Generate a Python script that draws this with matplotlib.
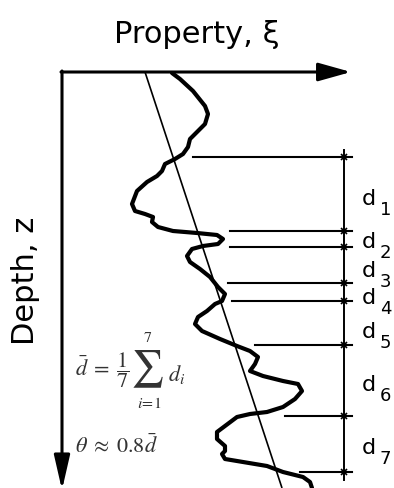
import matplotlib
matplotlib.use("Agg")
import matplotlib.pyplot as plt

# ---- data (diagram units: property to the right, depth downward, origin at axes corner) ----
profile_xi = [110, 118, 131, 143, 146, 143, 135, 128, 126, 121, 113, 103, 100, 95, 85,
              75, 70, 73, 83, 91, 90, 96, 111, 135, 155, 161, 156, 141, 130, 125,
              128, 138, 148, 156, 163, 160, 153, 145, 136, 133, 140, 158, 175, 188, 196,
              193, 188, 201, 221, 236, 240, 233, 221, 205, 188, 175, 163, 155, 155, 163,
              163, 160, 163, 181, 205, 221, 241, 248, 250]
profile_z = [1, 7, 19, 34, 42, 52, 60, 67, 75, 82, 87, 92, 99, 104, 110,
             119, 132, 139, 142, 145, 150, 155, 159, 161, 163, 167, 172, 174, 177, 184,
             190, 197, 205, 215, 222, 229, 232, 239, 245, 252, 259, 267, 274, 279, 285,
             292, 299, 304, 309, 312, 319, 327, 335, 340, 342, 345, 354, 360, 367, 374,
             379, 382, 387, 390, 394, 400, 405, 410, 416]

trend_xi = [83, 220]
trend_z = [0, 416]

boundary_z = [85, 159, 175, 211, 229, 273, 344, 400]
boundary_start_xi = [131, 168, 168, 166, 170, 193, 223, 238]
dim_xi = 282

layer_names = ["1", "2", "3", "4", "5", "6", "7"]
layer_label_z = [126, 169, 198, 225, 259, 312, 375]

title_text = "Property, ξ"
depth_text = "Depth, z"
formula_head = r"$\bar{d}\;=\;\dfrac{1}{7}$"
sum_sign = "\u2211"
sum_upper = "7"
sum_lower = r"$i\!=\!1$"
sum_term = r"$d_i$"
formula_theta = r"$\theta\;\approx\;0.8\bar{d}$"

# ---- figure ----
plt.rcParams["mathtext.fontset"] = "stix"
fig = plt.figure(figsize=(3.94, 4.89), dpi=100)
ax = fig.add_axes([0, 0, 1, 1])
ax.set_xlim(-62, 332)
ax.set_ylim(416, -73)
ax.axis("off")

# axes arrows
ax.annotate("", xy=(289, 0), xytext=(-1, 0), annotation_clip=False,
            arrowprops=dict(arrowstyle="-|>,head_length=1.0,head_width=0.28",
                            mutation_scale=20, lw=2.2, color="black",
                            shrinkA=0, shrinkB=0))
ax.annotate("", xy=(0, 418), xytext=(0, -1), annotation_clip=False,
            arrowprops=dict(arrowstyle="-|>,head_length=1.05,head_width=0.24",
                            mutation_scale=20, lw=2.2, color="black",
                            shrinkA=0, shrinkB=0))

# trend line
ax.plot(trend_xi, trend_z, color="black", lw=1.2, solid_capstyle="butt")

# profile
ax.plot(profile_xi, profile_z, color="black", lw=3.0,
        solid_joinstyle="round", solid_capstyle="round")

# boundaries and dimension line
for z0, x0 in zip(boundary_z, boundary_start_xi):
    ax.plot([x0, dim_xi + 8], [z0, z0], color="black", lw=1.5)
ax.plot([dim_xi, dim_xi], [boundary_z[0] - 7, boundary_z[-1] + 8], color="black", lw=1.4)
ax.plot([dim_xi] * len(boundary_z), boundary_z, linestyle="none", marker="x",
        markersize=4.5, mew=1.2, color="black")

# layer labels
for name, zl in zip(layer_names, layer_label_z):
    ax.text(300, zl, "d", ha="left", va="center", fontsize=16, family="DejaVu Sans")
    ax.text(318, zl + 11, name, ha="left", va="center", fontsize=13, family="DejaVu Sans")

# titles
ax.text(135, -30, title_text, ha="center", va="baseline", fontsize=22, family="DejaVu Sans")
ax.text(-37, 208, depth_text, ha="center", va="center", rotation=90, fontsize=22,
        family="DejaVu Sans")

# formulas
fcol = "#333333"
ax.text(13, 297, formula_head, ha="left", va="center", fontsize=16, color=fcol)
ax.text(86, 302, sum_sign, ha="center", va="center", fontsize=19, color=fcol,
        family=["STIXSizeOneSym", "STIXGeneral", "DejaVu Serif"])
ax.text(86, 265, sum_upper, ha="center", va="center", fontsize=11.5, color=fcol,
        family="STIXGeneral")
ax.text(87, 331, sum_lower, ha="center", va="center", fontsize=11.5, color=fcol)
ax.text(106, 302, sum_term, ha="left", va="center", fontsize=16, color=fcol)
ax.text(13, 372, formula_theta, ha="left", va="center", fontsize=16, color=fcol)

fig.savefig("out.png", dpi=100)
